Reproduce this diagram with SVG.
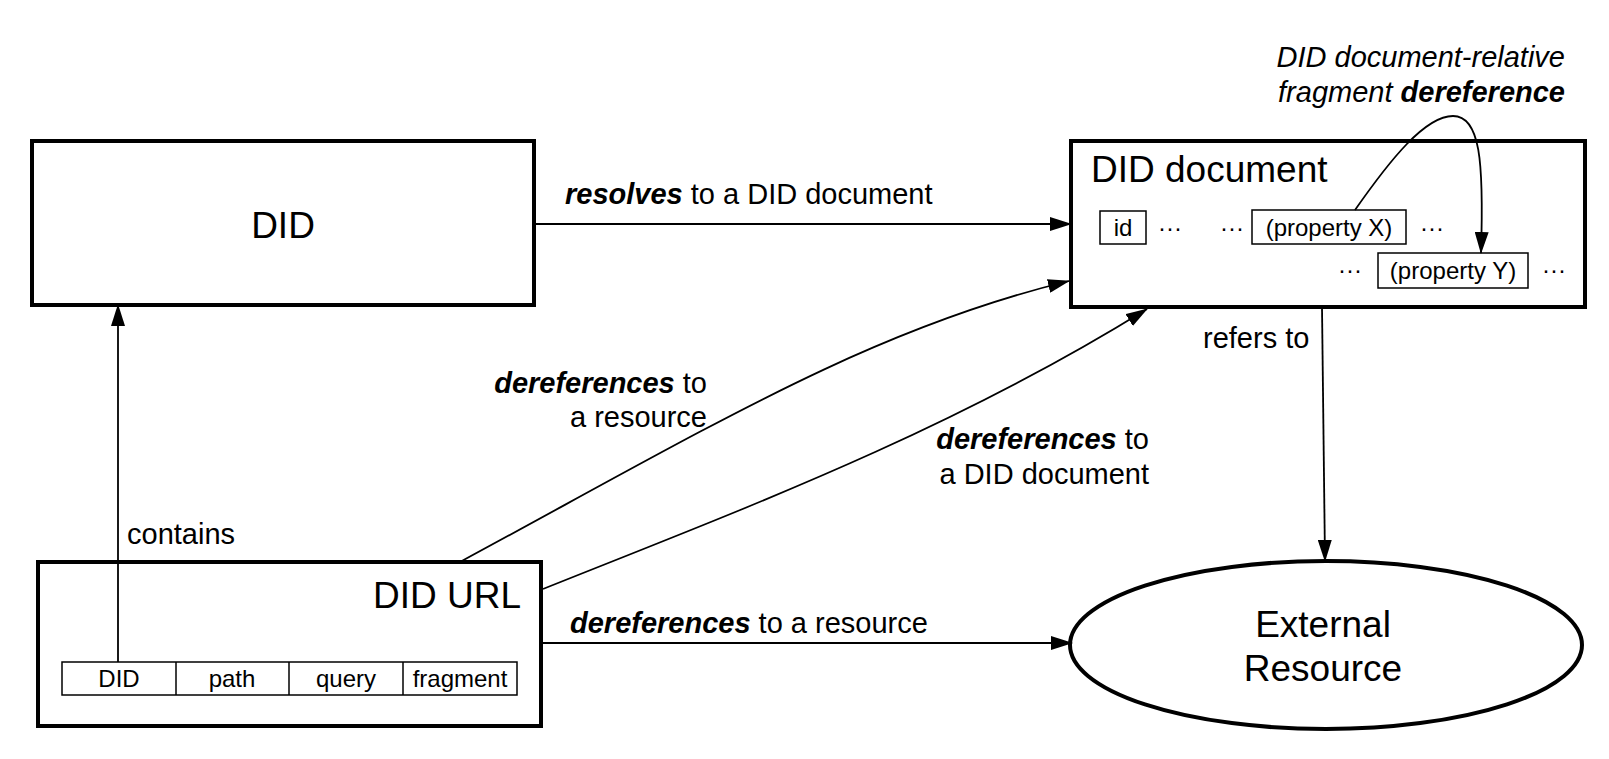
<svg xmlns="http://www.w3.org/2000/svg" width="1609" height="759" viewBox="0 0 1609 759">
<defs>
<marker id="arr" viewBox="0 0 22 14" refX="21" refY="7" markerWidth="22" markerHeight="14" markerUnits="userSpaceOnUse" orient="auto">
<path d="M0,0 L22,7 L0,14 Z" fill="#000"/>
</marker>
</defs>
<style>
text{font-family:"Liberation Sans",Arial,Helvetica,sans-serif;fill:#000}
.big{stroke:#000;stroke-width:4;fill:#fff}
.small{stroke:#000;stroke-width:1.5;fill:#fff}
.title{font-size:37px}
.lbl{font-size:29px}
.sm{font-size:24px}
.conn{stroke:#000;stroke-width:1.8;fill:none;marker-end:url(#arr)}
.b{font-weight:bold;font-style:italic}
.i{font-style:italic}
</style>
<rect width="1609" height="759" fill="#fff"/>
<g id="did">
<rect class="big" x="32" y="141" width="502" height="164"/>
<text class="title" x="283" y="238" text-anchor="middle">DID</text>
</g>
<g id="did-document">
<rect class="big" x="1071" y="141" width="514" height="166"/>
<text class="title" x="1091" y="182">DID document</text>
<rect class="small" x="1100" y="211" width="46" height="33"/>
<text class="sm" x="1123" y="236" text-anchor="middle">id</text>
<text class="sm" x="1158" y="236">···</text>
<text class="sm" x="1220" y="236">···</text>
<rect class="small" x="1252" y="210" width="154" height="34"/>
<text class="sm" x="1329" y="236" text-anchor="middle">(property X)</text>
<text class="sm" x="1420" y="236">···</text>
<text class="sm" x="1338" y="278">···</text>
<rect class="small" x="1378" y="253" width="150" height="35"/>
<text class="sm" x="1453" y="279" text-anchor="middle">(property Y)</text>
<text class="sm" x="1542" y="278">···</text>
</g>
<g id="did-url">
<rect class="big" x="38" y="562" width="503" height="164"/>
<text class="title" x="521" y="608" text-anchor="end">DID URL</text>
<rect class="small" x="62" y="662" width="455" height="33"/>
<line x1="176" y1="662" x2="176" y2="695" stroke="#000" stroke-width="1.5"/>
<line x1="289" y1="662" x2="289" y2="695" stroke="#000" stroke-width="1.5"/>
<line x1="403" y1="662" x2="403" y2="695" stroke="#000" stroke-width="1.5"/>
<text class="sm" x="119" y="687" text-anchor="middle">DID</text>
<text class="sm" x="232" y="687" text-anchor="middle">path</text>
<text class="sm" x="346" y="687" text-anchor="middle">query</text>
<text class="sm" x="460" y="687" text-anchor="middle">fragment</text>
</g>
<g id="external-resource">
<ellipse class="big" cx="1326" cy="645" rx="256" ry="84"/>
<text class="title" x="1323" y="637" text-anchor="middle">External</text>
<text class="title" x="1323" y="681" text-anchor="middle">Resource</text>
</g>
<g id="connectors">
<line class="conn" x1="534" y1="224" x2="1071" y2="224"/>
<text class="lbl" x="565" y="204"><tspan class="b">resolves</tspan> to a DID document</text>
<line class="conn" x1="118" y1="662" x2="118" y2="305"/>
<text class="lbl" x="127" y="544">contains</text>
<line class="conn" x1="541" y1="643" x2="1072" y2="643"/>
<text class="lbl" x="570" y="633"><tspan class="b">dereferences</tspan> to a resource</text>
<path class="conn" d="M460,562 C710,427 868,330 1069,281"/>
<text class="lbl" x="707" y="393" text-anchor="end"><tspan class="b">dereferences</tspan> to</text>
<text class="lbl" x="707" y="427" text-anchor="end">a resource</text>
<path class="conn" d="M543,589 C743,509 947,433 1147,309"/>
<text class="lbl" x="1149" y="449" text-anchor="end"><tspan class="b">dereferences</tspan> to</text>
<text class="lbl" x="1149" y="484" text-anchor="end">a DID document</text>
<line class="conn" x1="1322" y1="307" x2="1325" y2="561"/>
<text class="lbl" x="1203" y="348">refers to</text>
<path class="conn" d="M1355,210 C1390,160 1425,116 1453,116 C1480,116 1484,160 1481,253"/>
<text class="lbl i" x="1565" y="67" text-anchor="end">DID document-relative</text>
<text class="lbl" x="1565" y="102" text-anchor="end"><tspan class="i">fragment </tspan><tspan class="b">dereference</tspan></text>
</g>
</svg>
